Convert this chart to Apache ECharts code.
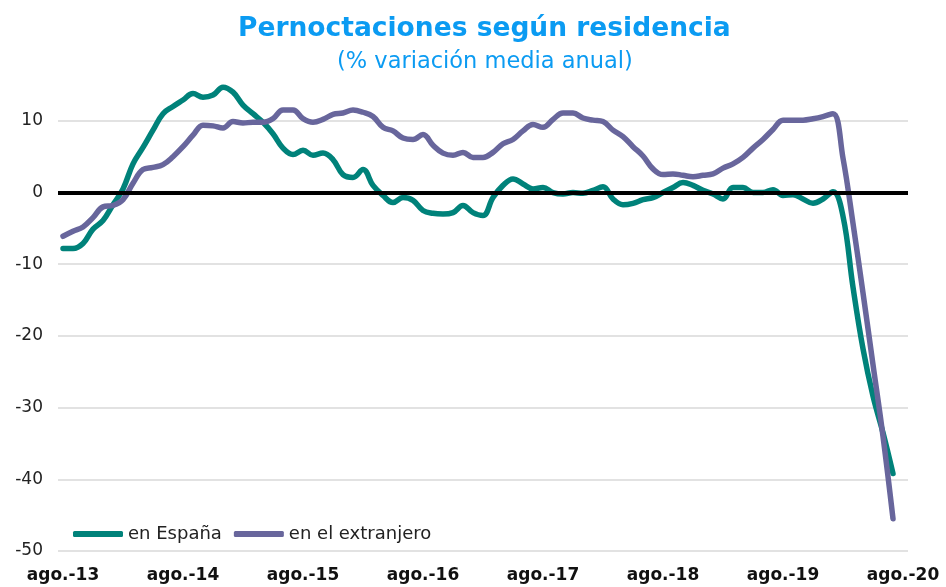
<!DOCTYPE html>
<html>
<head>
<meta charset="utf-8">
<script src="https://cdn.jsdelivr.net/npm/echarts@6/dist/echarts.min.js"></script>
<style>html,body{margin:0;padding:0;background:#fff}#c{width:946px;height:587px}</style>
</head>
<body>
<div id="c"></div>
<script>
var titleText = 'Pernoctaciones según residencia';
var subtitleText = '(% variación media anual)';
var seriesNames = ['en España', 'en el extranjero'];
var monthNames = ['ago.', 'sep.', 'oct.', 'nov.', 'dic.', 'ene.', 'feb.', 'mar.', 'abr.', 'may.', 'jun.', 'jul.'];
var startYear = 13;
var monthCount = 85; // ago.-13 ... ago.-20
var yTicks = { min: -50, max: 15, interval: 10 };

var espana = [
  -7.8, -7.8, -7.1, -5.1, -3.9, -1.7, 0.5, 4.0, 6.3, 8.7, 11.0, 12.0,
  12.9, 13.8, 13.3, 13.6, 14.7, 14.0, 12.2, 11.0, 9.8, 8.2, 6.2, 5.3,
  5.9, 5.2, 5.5, 4.6, 2.5, 2.1, 3.2, 1.0, -0.4, -1.4, -0.7, -1.1,
  -2.5, -2.9, -3.0, -2.8, -1.8, -2.8, -3.2, -0.7, 1.0, 1.9, 1.2, 0.5,
  0.7, 0.0, -0.2, 0.0, -0.1, 0.3, 0.8, -0.9, -1.7, -1.5, -1.0, -0.7,
  0.0, 0.7, 1.4, 1.0, 0.3, -0.2, -0.9, 0.7, 0.7, 0.0, 0.0, 0.4,
  -0.4, -0.3, -0.9, -1.5, -0.9, 0.1, -3.3, -13.2, -21.8, -28.4, -33.5, -39.2
];
var extranjero = [
  -6.1, -5.4, -4.8, -3.5, -2.0, -1.8, -1.0, 1.3, 3.2, 3.5, 3.9, 5.0,
  6.4, 8.0, 9.4, 9.3, 9.0, 9.9, 9.7, 9.8, 9.8, 10.3, 11.5, 11.5,
  10.3, 9.8, 10.2, 10.9, 11.1, 11.5, 11.2, 10.6, 9.1, 8.6, 7.6, 7.4,
  8.1, 6.6, 5.5, 5.2, 5.6, 4.9, 4.9, 5.6, 6.8, 7.4, 8.6, 9.5,
  9.1, 10.2, 11.1, 11.1, 10.4, 10.1, 9.9, 8.7, 7.8, 6.4, 5.1, 3.3,
  2.5, 2.6, 2.4, 2.2, 2.4, 2.6, 3.4, 4.0, 4.9, 6.2, 7.4, 8.8,
  10.1, 10.1, 10.1, 10.3, 10.6, 11.0, 4.8, -4.3, -14.0, -24.0, -34.0, -45.5
];

var categories = [];
for (var i = 0; i < monthCount; i++) {
  var m = i % 12;
  var yr = startYear + Math.floor((i + 7) / 12);
  categories.push(monthNames[m] + '-' + yr);
}

var colors = ['#00827A', '#68669C'];
var font = 'DejaVu Sans, Verdana, sans-serif';

var chart = echarts.init(document.getElementById('c'));
chart.setOption({
  animation: false,
  backgroundColor: '#fff',
  color: colors,
  title: [
    { text: titleText, left: 238, top: 16, padding: 0,
      textStyle: { color: '#0B9BF2', fontSize: 26.5, fontWeight: 'bold', fontFamily: font } },
    { text: subtitleText, left: 337, top: 51, padding: 0,
      textStyle: { color: '#0B9BF2', fontSize: 22.5, fontWeight: 'normal', fontFamily: font } }
  ],
  legend: {
    data: seriesNames,
    left: 68, top: 520,
    icon: 'roundRect',
    itemWidth: 50, itemHeight: 6, itemGap: 12,
    textStyle: { color: '#222', fontSize: 18, fontFamily: font }
  },
  grid: { left: 58, right: 38, top: 85, bottom: 36, containLabel: false },
  xAxis: {
    type: 'category',
    data: categories,
    boundaryGap: true,
    axisLine: { show: false },
    axisTick: { show: false },
    axisLabel: { interval: 11, margin: 16, color: '#111', fontSize: 17, fontWeight: 'bold', fontFamily: font },
    splitLine: { show: false }
  },
  yAxis: {
    type: 'value',
    min: yTicks.min, max: yTicks.max, interval: yTicks.interval,
    axisLine: { show: false },
    axisTick: { show: false },
    axisLabel: { margin: 15, color: '#222', fontSize: 17, fontFamily: font, showMaxLabel: false },
    splitLine: { show: true, showMaxLine: false, lineStyle: { color: '#d9d9d9', width: 1.5 } }
  },
  series: [
    { name: 'cero', type: 'line', data: [], silent: true, z: 1,
      markLine: { silent: true, symbol: 'none', label: { show: false },
        lineStyle: { color: '#000', width: 4, type: 'solid' }, data: [{ yAxis: 0 }] } },
    { name: seriesNames[0], type: 'line', data: espana, smooth: 0.4, showSymbol: false, z: 3,
      lineStyle: { width: 5.5, color: colors[0], cap: 'round', join: 'round' }, itemStyle: { color: colors[0] } },
    { name: seriesNames[1], type: 'line', data: extranjero, smooth: 0.4, showSymbol: false, z: 4,
      lineStyle: { width: 5.5, color: colors[1], cap: 'round', join: 'round' }, itemStyle: { color: colors[1] } }
  ]
});
</script>
</body>
</html>
